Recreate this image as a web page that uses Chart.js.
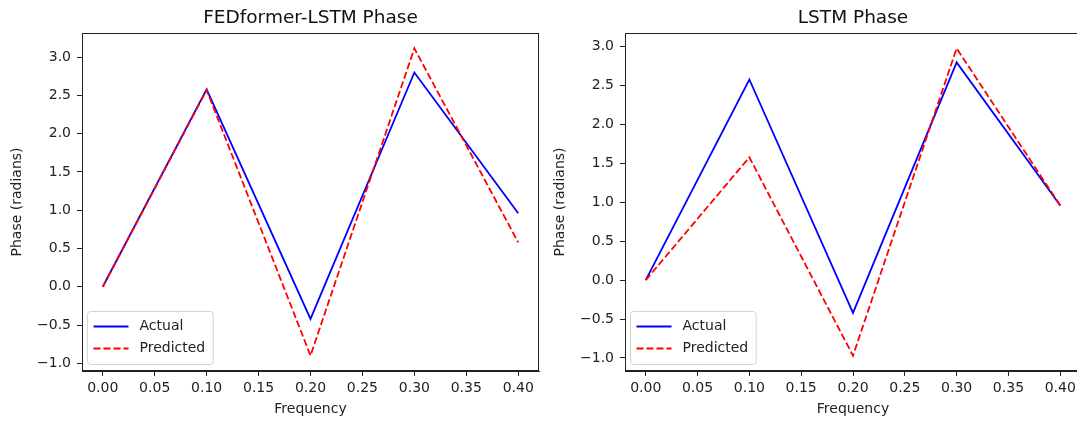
<!DOCTYPE html>
<html>
<head>
<meta charset="utf-8">
<title>Phase comparison</title>
<script src="https://cdn.jsdelivr.net/npm/chart.js@4.4.0/dist/chart.umd.min.js"></script>
<style>
  html, body { margin: 0; padding: 0; background: #fff; }
  #wrap { position: relative; width: 1077px; height: 423px; overflow: hidden; }
  .panel { position: absolute; top: 0; height: 423px; }
  #left { left: 0; width: 540px; }
  #right { left: 540px; width: 545px; }
</style>
</head>
<body>
<div id="wrap">
  <div class="panel" id="left"><canvas id="fedChart"></canvas></div>
  <div class="panel" id="right"><canvas id="lstmChart"></canvas></div>
</div>
<script>
// frequency bins and phase values (radians)
const freqs = [0.0, 0.1, 0.2, 0.3, 0.4];
const actualPhase = [0.0, 2.58, -0.42, 2.80, 0.96];
const fedPredicted = [0.0, 2.57, -0.90, 3.115, 0.58];
const lstmPredicted = [0.0, 1.58, -0.97, 2.98, 0.96];

const xTicks = [0.0, 0.05, 0.10, 0.15, 0.20, 0.25, 0.30, 0.35, 0.40];
const yTicks = [-1.0, -0.5, 0.0, 0.5, 1.0, 1.5, 2.0, 2.5, 3.0];

const FONT = '"DejaVu Sans", sans-serif';
const INK = '#222';

Chart.defaults.font.family = FONT;
Chart.defaults.color = INK;

// matplotlib-like autoscale: 5% margin on each side
function padRange(...series) {
  const all = series.flat();
  const lo = Math.min(...all), hi = Math.max(...all);
  const m = (hi - lo) * 0.05;
  return [lo - m, hi + m];
}

const fmtNum = (v, d) => (v < 0 ? '\u2212' : '') + Math.abs(v).toFixed(d);
const pts = ys => freqs.map((f, i) => ({ x: f, y: ys[i] }));

// full box around the plot area (top/right spines)
const frameBox = {
  id: 'frameBox',
  afterDraw(chart) {
    const { ctx, chartArea: a } = chart;
    ctx.save();
    ctx.strokeStyle = INK;
    ctx.lineWidth = 1;
    ctx.strokeRect(Math.round(a.left) + 0.5, Math.round(a.top) + 0.5,
      Math.round(a.right - a.left) - 1, Math.round(a.bottom - a.top) - 1);
    ctx.restore();
  }
};

// legend box in the lower-left corner of the axes
const cornerLegend = {
  id: 'cornerLegend',
  afterDatasetsDraw(chart) {
    const { ctx, chartArea: a } = chart;
    const sets = chart.data.datasets;
    ctx.save();
    ctx.font = '14px ' + FONT;
    const rowH = 22, pad = 6, handle = 35, gap = 11;
    const textW = Math.max(...sets.map(d => ctx.measureText(d.label).width));
    const w = pad + handle + gap + textW + 8;
    const h = sets.length * rowH + 9;
    const x = a.left + 5.5, y = a.bottom - 6.5 - h;
    ctx.beginPath();
    ctx.roundRect(x, y, w, h, 3);
    ctx.fillStyle = 'rgba(255,255,255,0.8)';
    ctx.fill();
    ctx.strokeStyle = '#d4d4d4';
    ctx.lineWidth = 1;
    ctx.stroke();
    sets.forEach((d, i) => {
      const cy = y + 15 + i * rowH;
      ctx.beginPath();
      ctx.strokeStyle = d.borderColor;
      ctx.lineWidth = d.borderWidth;
      ctx.setLineDash(d.borderDash || []);
      ctx.moveTo(x + pad, cy);
      ctx.lineTo(x + pad + handle, cy);
      ctx.stroke();
      ctx.setLineDash([]);
      ctx.fillStyle = INK;
      ctx.textBaseline = 'middle';
      ctx.fillText(d.label, x + pad + handle + gap, cy);
    });
    ctx.restore();
  }
};

function makeChart(id, title, predicted, opts) {
  const [yMin, yMax] = padRange(actualPhase, predicted);
  const [xMin, xMax] = padRange(freqs);
  return new Chart(document.getElementById(id), {
    type: 'line',
    data: {
      datasets: [
        { label: 'Actual', data: pts(actualPhase), borderColor: '#0000ff',
          borderWidth: 1.8, pointRadius: 0, order: 1 },
        { label: 'Predicted', data: pts(predicted), borderColor: '#ff0000',
          borderWidth: 1.8, borderDash: [7, 3], pointRadius: 0, order: 0 }
      ]
    },
    options: {
      responsive: true,
      maintainAspectRatio: false,
      animation: false,
      layout: { padding: { left: 0, right: opts.padRight, top: 0, bottom: 0 } },
      plugins: {
        legend: { display: false },
        tooltip: { enabled: false },
        title: {
          display: true, text: title, fullSize: false, color: '#111',
          font: { size: 18.5, weight: 'normal', lineHeight: '20px' },
          padding: { top: 8, bottom: 5 }
        }
      },
      scales: {
        x: {
          type: 'linear', min: xMin, max: xMax,
          afterBuildTicks: s => { s.ticks = xTicks.map(v => ({ value: v })); },
          afterFit: s => { s.height = 52; },
          grid: { drawOnChartArea: false, drawTicks: true, tickLength: 5, color: INK },
          border: { display: true, color: INK, width: 1 },
          ticks: { font: { size: 14 }, padding: 4, maxRotation: 0,
                   callback: v => fmtNum(v, 2) },
          title: { display: true, text: 'Frequency', font: { size: 14, lineHeight: '17px' },
                   padding: { top: 0, bottom: 5 } }
        },
        y: {
          min: yMin, max: yMax,
          afterBuildTicks: s => { s.ticks = yTicks.map(v => ({ value: v })); },
          afterFit: s => { s.width = opts.yWidth; },
          grid: { drawOnChartArea: false, drawTicks: true, tickLength: 5, color: INK },
          border: { display: true, color: INK, width: 1 },
          ticks: { font: { size: 14 }, padding: 6, callback: v => fmtNum(v, 1) },
          title: { display: true, text: 'Phase (radians)', font: { size: 14, lineHeight: '17px' },
                   padding: { top: opts.yTitlePad, bottom: 0 } }
        }
      }
    },
    plugins: [frameBox, cornerLegend]
  });
}

makeChart('fedChart', 'FEDformer-LSTM Phase', fedPredicted, { yWidth: 82, padRight: 1, yTitlePad: 9 });
makeChart('lstmChart', 'LSTM Phase', lstmPredicted, { yWidth: 85, padRight: 4, yTitlePad: 12 });
</script>
</body>
</html>
